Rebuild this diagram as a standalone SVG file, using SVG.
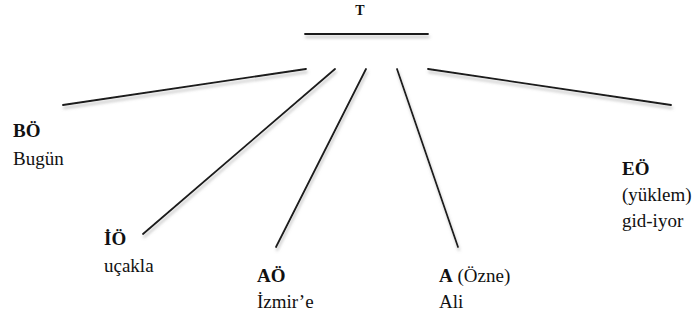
<svg xmlns="http://www.w3.org/2000/svg" width="698" height="322" viewBox="0 0 698 322">
  <defs>
    <filter id="shadow" filterUnits="userSpaceOnUse" x="0" y="0" width="698" height="322">
      <feDropShadow dx="1" dy="3" stdDeviation="1.6" flood-color="#888" flood-opacity="0.55"/>
    </filter>
  </defs>
  <style>
    .lbl { fill: #111; font-family: "Times New Roman", "Liberation Serif", serif; }
    .b { font-weight: bold; }
    .edge { stroke: #1a1a1a; stroke-width: 1.8; stroke-linecap: round; fill: none; }
  </style>

  <rect width="698" height="322" fill="#ffffff"/>

  <!-- root node: T with its bar -->
  <g id="node-T">
    <text class="lbl b" font-size="14" x="360" y="15" text-anchor="middle">T</text>
    <line class="edge" x1="305" y1="34" x2="428" y2="34" filter="url(#shadow)"/>
  </g>

  <!-- branches from the root down to each constituent -->
  <g id="connectors" filter="url(#shadow)">
    <line class="edge" x1="306" y1="69" x2="63" y2="105"/>
    <line class="edge" x1="335" y1="69" x2="143" y2="234"/>
    <line class="edge" x1="366" y1="69" x2="276" y2="247"/>
    <line class="edge" x1="397" y1="69" x2="458" y2="247"/>
    <line class="edge" x1="428" y1="69" x2="671" y2="105"/>
  </g>

  <g font-size="19">
    <g id="node-BO">
      <text class="lbl b" x="13" y="137">BÖ</text>
      <text class="lbl" x="13" y="165">Bugün</text>
    </g>

    <g id="node-IO">
      <text class="lbl b" x="104" y="245">İÖ</text>
      <text class="lbl" x="104" y="272">uçakla</text>
    </g>

    <g id="node-AO">
      <text class="lbl b" x="257" y="282">AÖ</text>
      <text class="lbl" x="257" y="308">İzmir’e</text>
    </g>

    <g id="node-A">
      <text class="lbl" x="439" y="282"><tspan class="b">A</tspan> (Özne)</text>
      <text class="lbl" x="439" y="308">Ali</text>
    </g>

    <g id="node-EO">
      <text class="lbl b" x="622" y="175">EÖ</text>
      <text class="lbl" x="622" y="201">(yüklem)</text>
      <text class="lbl" x="622" y="227">gid-iyor</text>
    </g>
  </g>
</svg>
